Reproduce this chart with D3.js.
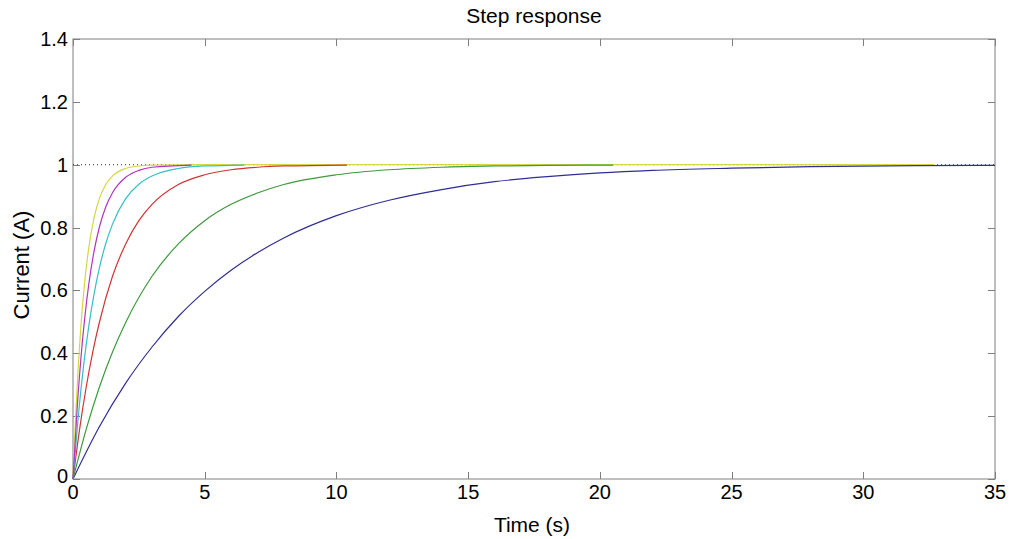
<!DOCTYPE html>
<html>
<head>
<meta charset="utf-8">
<script src="https://cdn.jsdelivr.net/npm/d3@7"></script>
<style>
  body { margin: 0; background: #fff; }
  svg { display: block; font-family: "Liberation Sans", Arial, sans-serif; }
</style>
</head>
<body>
<svg id="chart" width="1013" height="539"></svg>
<script>
// ---- data ----
const title = "Step response";
const xLabel = "Time (s)";
const yLabel = "Current (A)";
const xTicks = [0, 5, 10, 15, 20, 25, 30, 35];
const yTicks = [0, 0.2, 0.4, 0.6, 0.8, 1, 1.2, 1.4];
const seriesNames = ["yellow", "blue", "green", "red", "cyan", "magenta"];
const seriesColors = ["#d6d640", "#2e2e96", "#3c9a3c", "#d03535", "#35c0c8", "#b035c0"];

const yellowT = [0, 0.1, 0.2, 0.3, 0.45, 0.6, 0.8, 1, 1.25, 1.5, 2, 2.5, 3, 5, 10, 20, 32.7];
const yellowV = [0, 0.199, 0.359, 0.487, 0.632, 0.736, 0.831, 0.892, 0.938, 0.964, 0.988, 0.996, 0.999, 1, 1, 1, 1];

const blueT = [0, 1, 2, 3, 4, 5, 6, 7, 8, 10, 12, 14, 16, 18, 20, 22, 25, 28, 32, 35];
const blueV = [0, 0.166, 0.305, 0.42, 0.517, 0.597, 0.664, 0.72, 0.767, 0.838, 0.887, 0.921, 0.946, 0.962, 0.974, 0.982, 0.989, 0.994, 0.997, 0.998];

const greenT = [0, 0.5, 1, 1.5, 2, 3, 4, 5, 6, 7, 8, 10, 12, 14, 16, 18, 20.5];
const greenV = [0, 0.158, 0.292, 0.404, 0.498, 0.645, 0.748, 0.822, 0.874, 0.91, 0.937, 0.968, 0.984, 0.992, 0.996, 0.998, 0.999];

const redT = [0, 0.25, 0.5, 0.75, 1, 1.5, 2, 2.5, 3, 4, 5, 6, 7, 8, 10.4];
const redV = [0, 0.158, 0.292, 0.404, 0.498, 0.645, 0.748, 0.822, 0.874, 0.937, 0.968, 0.984, 0.992, 0.996, 0.999];

const cyanT = [0, 0.2, 0.4, 0.6, 0.8, 1, 1.25, 1.5, 2, 2.5, 3, 4, 5, 6.5];
const cyanV = [0, 0.199, 0.359, 0.487, 0.589, 0.671, 0.751, 0.811, 0.892, 0.938, 0.964, 0.988, 0.996, 0.999];

const magentaT = [0, 0.15, 0.3, 0.45, 0.6, 0.8, 1, 1.25, 1.5, 2, 2.5, 3, 4.5];
const magentaV = [0, 0.215, 0.384, 0.516, 0.62, 0.725, 0.801, 0.867, 0.911, 0.96, 0.982, 0.992, 0.999];

const seriesT = [yellowT, blueT, greenT, redT, cyanT, magentaT];
const seriesV = [yellowV, blueV, greenV, redV, cyanV, magentaV];
const steadyState = 1;

// ---- layout ----
const svg = d3.select("#chart");
const pLeft = 73, pRight = 995, pTop = 39, pBottom = 479;
const x = d3.scaleLinear().domain([0, 35]).range([pLeft, pRight]);
const y = d3.scaleLinear().domain([0, 1.4]).range([pBottom, pTop]);
const axisColor = "#7f7f7f";
const tickLen = 7;

// frame
svg.append("rect")
  .attr("x", pLeft).attr("y", pTop)
  .attr("width", pRight - pLeft).attr("height", pBottom - pTop)
  .attr("fill", "#fff").attr("stroke", axisColor).attr("stroke-width", 1);

// ticks (inward, all four sides)
const g = svg.append("g").attr("stroke", axisColor).attr("stroke-width", 1);
xTicks.forEach(t => {
  const px = Math.round(x(t)) + 0.5;
  g.append("line").attr("x1", px).attr("x2", px).attr("y1", pBottom).attr("y2", pBottom - tickLen);
  g.append("line").attr("x1", px).attr("x2", px).attr("y1", pTop).attr("y2", pTop + tickLen);
});
yTicks.forEach(t => {
  const py = Math.round(y(t)) + 0.5;
  g.append("line").attr("x1", pLeft).attr("x2", pLeft + tickLen).attr("y1", py).attr("y2", py);
  g.append("line").attr("x1", pRight).attr("x2", pRight - tickLen).attr("y1", py).attr("y2", py);
});

// tick labels
svg.append("g").selectAll("text").data(xTicks).join("text")
  .attr("x", d => x(d)).attr("y", 499)
  .attr("text-anchor", "middle").attr("font-size", 20).attr("fill", "#000")
  .text(d => d);
svg.append("g").selectAll("text").data(yTicks).join("text")
  .attr("x", 68).attr("y", d => y(d) + 7 - (d === 0 ? 3 : 0))
  .attr("text-anchor", "end").attr("font-size", 20).attr("fill", "#000")
  .text(d => d);

// steady-state dotted line
svg.append("line")
  .attr("x1", x(0)).attr("x2", x(35))
  .attr("y1", y(steadyState)).attr("y2", y(steadyState))
  .attr("stroke", "#333").attr("stroke-width", 1).attr("stroke-dasharray", "1,3");

// curves
const line = d3.line().x(d => x(d[0])).y(d => y(d[1])).curve(d3.curveMonotoneX);
seriesNames.forEach((name, i) => {
  const pts = seriesT[i].map((t, j) => [t, seriesV[i][j]]);
  svg.append("path")
    .attr("d", line(pts))
    .attr("fill", "none")
    .attr("stroke", seriesColors[i])
    .attr("stroke-width", 1.2);
});

// title and axis labels
svg.append("text").attr("x", (pLeft + pRight) / 2).attr("y", 23)
  .attr("text-anchor", "middle").attr("font-size", 21).attr("fill", "#000").text(title);
svg.append("text").attr("x", 532).attr("y", 532)
  .attr("text-anchor", "middle").attr("font-size", 21).attr("fill", "#000").text(xLabel);
svg.append("text").attr("transform", "translate(29,265) rotate(-90)")
  .attr("text-anchor", "middle").attr("font-size", 22).attr("fill", "#000").text(yLabel);
</script>
</body>
</html>
